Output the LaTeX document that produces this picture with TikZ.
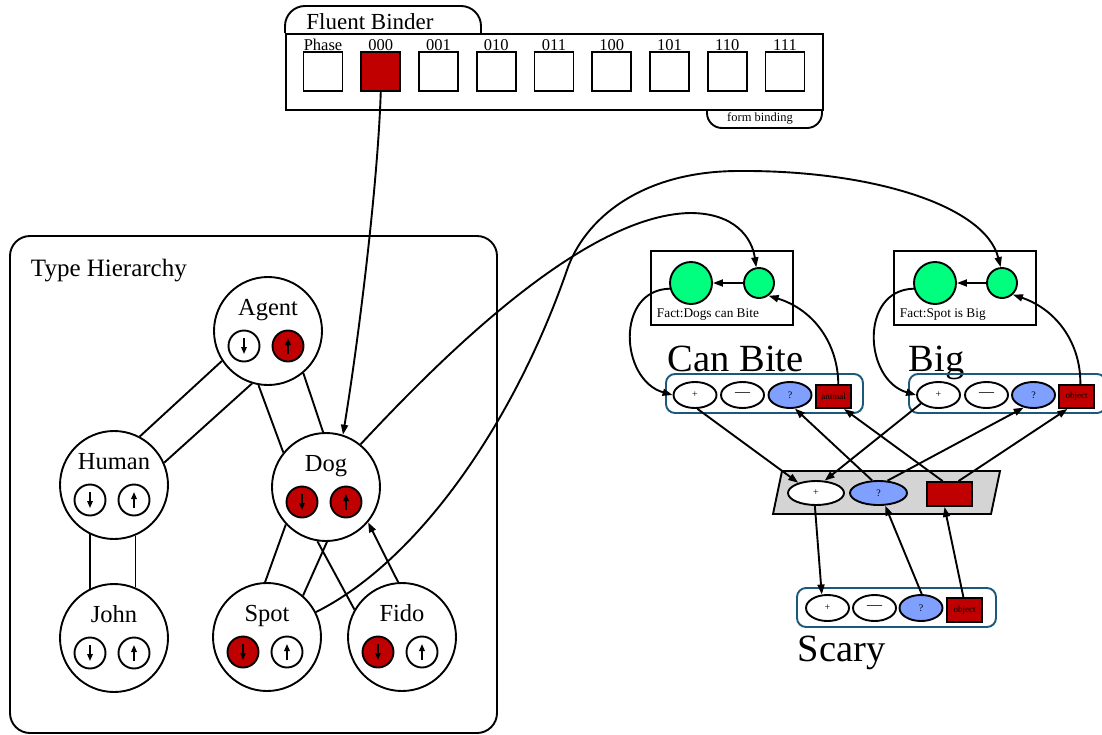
\documentclass[tikz,border=0pt]{standalone}
\usepackage{fontspec}
\setmainfont{Liberation Serif}
\usetikzlibrary{arrows.meta,calc,shapes.geometric}

\definecolor{bindred}{RGB}{192,0,0}
\definecolor{factgreen}{RGB}{0,255,127}
\definecolor{qblue}{RGB}{128,160,255}
\definecolor{barblue}{RGB}{28,88,122}
\definecolor{slotgray}{RGB}{212,212,212}

\newcommand\setfs[1]{\fontsize{#1}{#1}\selectfont}

\begin{document}
\begin{tikzpicture}[x=1pt,y=-1pt,line width=1.9pt,
  arr/.style={-{Triangle[length=10pt,width=7pt]}},
  polarr/.style={line width=1.5pt,-{Triangle[length=7pt,width=5.5pt]}},
  concept/.style={circle,draw,fill=white,minimum size=108pt,inner sep=0pt},
  clabel/.style={anchor=base,inner sep=0pt,font=\setfs{24.5}},
  pol/.style={circle,draw,minimum size=31pt,inner sep=0pt},
  slot/.style={draw,fill=white,minimum size=39pt,inner sep=0pt},
  slotlbl/.style={anchor=base,inner sep=0pt,font=\setfs{16.5}},
  fact/.style={draw,minimum width=142pt,minimum height=74pt,inner sep=0pt},
  factbig/.style={circle,draw,fill=factgreen,minimum size=42pt,inner sep=0pt},
  factsmall/.style={circle,draw,fill=factgreen,minimum size=30pt,inner sep=0pt},
  factlbl/.style={anchor=base west,inner sep=0pt,font=\setfs{13.3}},
  bar/.style={draw=barblue,rounded corners=9pt,minimum width=197pt,minimum height=39pt,inner sep=0pt},
  elt/.style={ellipse,draw,minimum width=43pt,minimum height=26pt,inner sep=0pt,font=\setfs{10}},
  posn/.style={elt,fill=white},
  negn/.style={elt,fill=white,font=\setfs{15}},
  qn/.style={elt,fill=qblue},
  objn/.style={draw,fill=bindred,minimum width=35pt,minimum height=23pt,inner sep=0pt,font=\setfs{9}},
  predlbl/.style={anchor=base west,inner sep=0pt,font=\setfs{38.5}}
]
\useasboundingbox (0,0) rectangle (1102,734);

% ---------- Fluent binder ----------
\draw[fill=white,rounded corners=20pt] (285,33) -- (285,6) -- (481,6) -- (481,33);
\draw[fill=white,rounded corners=15pt] (707,109) -- (707,128) -- (822,128) -- (822,109);
\node[draw,fill=white,minimum width=537pt,minimum height=76pt,inner sep=0pt,anchor=north west] (binder) at (285,33) {};
\node[anchor=base,inner sep=0pt,font=\setfs{23}] (bindertitle) at (370,29) {Fluent Binder};
\node[inner sep=0pt,font=\setfs{12.5}] (formbinding) at (760,118) {form binding};
\foreach \lbl [count=\i from 0] in {Phase,000,001,010,011,100,101,110,111}{
  \node[slot] (s\lbl) at (323+57.75*\i,71.5) {};
  \node[slotlbl] (l\lbl) at (323+57.75*\i,50) {\lbl};
}
\node[slot,fill=bindred] at (s000) {};

% ---------- Type hierarchy ----------
\draw[rounded corners=20pt] (10,236) rectangle (497,733);
\node[anchor=base west,inner sep=0pt,font=\setfs{25}] (typetitle) at (30,276) {Type Hierarchy};

\foreach \n/\lbl/\cx/\cy/\fd/\fu in {agent/Agent/268/331/white/bindred,
    human/Human/114/485/white/white, dog/Dog/326/487/bindred/bindred,
    john/John/114/638/white/white, spot/Spot/267/637/bindred/white,
    fido/Fido/402/637/bindred/white}{
  \node[concept] (\n) at (\cx,\cy) {};
  \node[clabel] (\n-l) at (\cx,\cy-16) {\lbl};
  \node[pol,fill=\fd] (\n-d) at (\cx-24,\cy+15) {};
  \node[pol,fill=\fu] (\n-u) at (\cx+20,\cy+15) {};
  \draw[polarr] ($(\n-d)+(0,-8)$) -- ($(\n-d)+(0,8)$);
  \draw[polarr] ($(\n-u)+(0,8)$) -- ($(\n-u)+(0,-8)$);
}

\draw (agent.213) -- (human.62);
\draw (agent.253) -- (human.24);
\draw (agent.260) -- (dog.141);
\draw (agent.310) -- (dog.93);
\draw (human.244) -- (john.116);
\draw (human.293) -- (john.67);
\draw (dog.223) -- (spot.92);
\draw (dog.271) -- (spot.49);
\draw (dog.261) -- (fido.150);
\draw[arr] (fido.94) -- (dog.320);

% ---------- Facts ----------
\node[fact] (cbfact) at (722,288) {};
\node[factbig] (cbbig) at (691,283) {};
\node[factsmall] (cbsmall) at (759,283) {};
\node[factlbl] (cbfactlbl) at (656,317) {Fact:Dogs can Bite};
\draw[arr] (cbsmall) -- (cbbig);

\node[fact] (bfact) at (965,288) {};
\node[factbig] (bbig) at (935,283) {};
\node[factsmall] (bsmall) at (1002,283) {};
\node[factlbl] (bfactlbl) at (899,317) {Fact:Spot is Big};
\draw[arr] (bsmall) -- (bbig);

% ---------- Predicates ----------
\node[predlbl] (cbname) at (667,371) {Can Bite};
\node[bar] (cbbar) at (764.5,393.5) {};
\node[posn] (cbplus) at (695,395) {+};
\node[negn] (cbminus) at (742.5,395) {—};
\node[qn] (cbq) at (790,395) {?};
\node[objn] (cbobj) at (833.5,396.5) {animal};

\node[predlbl] (bname) at (908,371) {Big};
\node[bar] (bbar) at (1007.5,393.5) {};
\node[posn] (bplus) at (938.5,395) {+};
\node[negn] (bminus) at (986.5,395) {—};
\node[qn] (bq) at (1033.5,395) {?};
\node[objn] (bobj) at (1076.5,396.5) {object};

\draw[fill=slotgray] (782,471) -- (1000,471) -- (991,514) -- (773,514) -- cycle;
\node[posn,minimum width=56pt,minimum height=24pt] (mplus) at (816,493) {+};
\node[qn,minimum width=57pt,minimum height=24pt] (mq) at (878.5,493) {?};
\node[objn,minimum width=45pt,minimum height=24pt] (mrect) at (949.5,494) {};

\node[bar,minimum width=199pt] (sbar) at (896.5,607.5) {};
\node[posn] (splus) at (827.5,608) {+};
\node[negn] (sminus) at (874.5,608) {—};
\node[qn] (sq) at (921,608) {?};
\node[objn,minimum height=24pt] (sobj) at (964.5,610) {object};
\node[predlbl] (sname) at (797,661) {Scary};

% ---------- Connections ----------
\draw[arr] (s000.south) .. controls (378,180) and (360,330) .. (dog.72);
\draw[arr] (dog.51) .. controls (430,370) and (580,215) .. (690,213)
  .. controls (735,213) and (752,238) .. (cbsmall.100);
\draw[arr] (spot.27) .. controls (420,560) and (515,420) .. (567,270)
  .. controls (584,220) and (640,171) .. (739,171)
  .. controls (870,170) and (985,205) .. (bsmall.95);

\draw[arr] (cbbig.195) .. controls (615,290) and (620,380) .. (cbplus.west);
\draw[arr] (bbig.195) .. controls (859,290) and (864,380) .. (bplus.west);
\draw[arr] (cbobj.69) .. controls (838,345) and (815,310) .. (cbsmall.307);
\draw[arr] (bobj.73) .. controls (1081,345) and (1058,310) .. (bsmall.313);

\draw[arr] (cbplus.280) -- (mplus.150);
\draw[arr] (bplus.206) -- (mplus.55);
\draw[arr] (mq.117) -- (cbq.290);
\draw[arr] (mq.54) -- (bq.232);
\draw[arr] (mrect.118) -- (cbobj.310);
\draw[arr] (mrect.55) -- (bobj.234);
\draw[arr] (mplus.265) -- (splus.113);
\draw[arr] (sq.87) -- (mq.298);
\draw[arr] (sobj.95) -- (mrect.249);
\end{tikzpicture}
\end{document}
